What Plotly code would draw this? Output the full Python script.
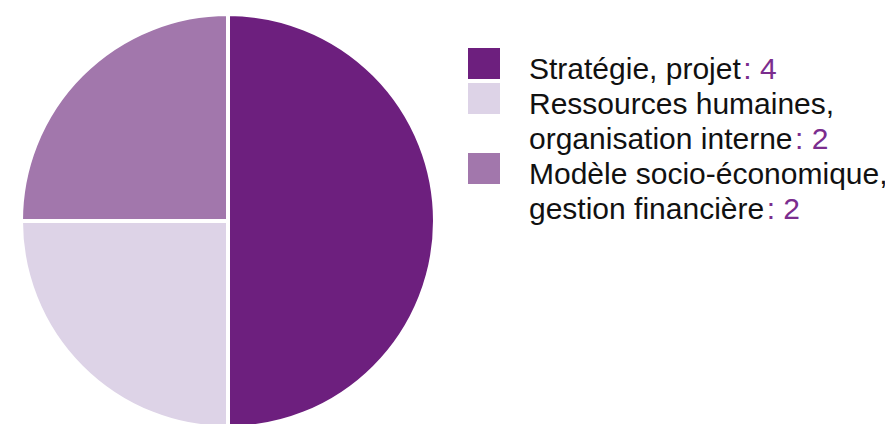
import plotly.graph_objects as go

# Données
labels = ["Stratégie, projet", "Ressources humaines, organisation interne",
          "Modèle socio-économique, gestion financière"]
legend_lines = [["Stratégie, projet"],
                ["Ressources humaines,", "organisation interne"],
                ["Modèle socio-économique,", "gestion financière"]]
values = [4, 2, 2]
colors = ["#6D1F7E", "#DDD3E7", "#A277AC"]

W, H = 893, 424
OFF = 8  # marge par défaut du <body> dans la page html
VALUE_COLOR = "#7B2D8E"
FONT = "Liberation Sans, Arial, Helvetica, sans-serif"


def px(x):
    return (x - OFF) / W


def py(y):
    return 1 - (y - OFF) / H


# Camembert
cx, cy, r = 228, 221, 207
fig = go.Figure(go.Pie(
    labels=labels, values=values,
    marker=dict(colors=colors, line=dict(color="white", width=4)),
    sort=False, direction="clockwise", rotation=0,
    textinfo="none", hoverinfo="label+value",
    domain=dict(x=[px(cx - r), px(cx + r)], y=[max(0, py(cy + r)), py(cy - r)]),
    showlegend=False,
))

# Légende dessinée à la main (carrés plus grands que ceux de plotly)
line_h = 35
top0 = 48
k = 0
shapes, annotations = [], []
for lines, val, col in zip(legend_lines, values, colors):
    y0 = top0 + line_h * k
    shapes.append(dict(type="rect", xref="paper", yref="paper",
                       x0=px(468), x1=px(500), y0=py(y0), y1=py(y0 + 31),
                       fillcolor=col, line=dict(width=0)))
    for j, txt in enumerate(lines):
        if j == len(lines) - 1:
            txt = f"{txt}<span style='color:{VALUE_COLOR}'>\u200a: {val}</span>"
        yc = y0 + 20.5 + line_h * j
        annotations.append(dict(xref="paper", yref="paper", x=px(527), y=py(yc),
                                xanchor="left", yanchor="middle", showarrow=False,
                                text=txt, font=dict(size=30, color="#111111", family=FONT)))
    k += len(lines)

fig.update_layout(
    width=W, height=H,
    margin=dict(l=0, r=0, t=0, b=0),
    paper_bgcolor="white", plot_bgcolor="white",
    shapes=shapes, annotations=annotations,
)

fig.write_html("out.html")
